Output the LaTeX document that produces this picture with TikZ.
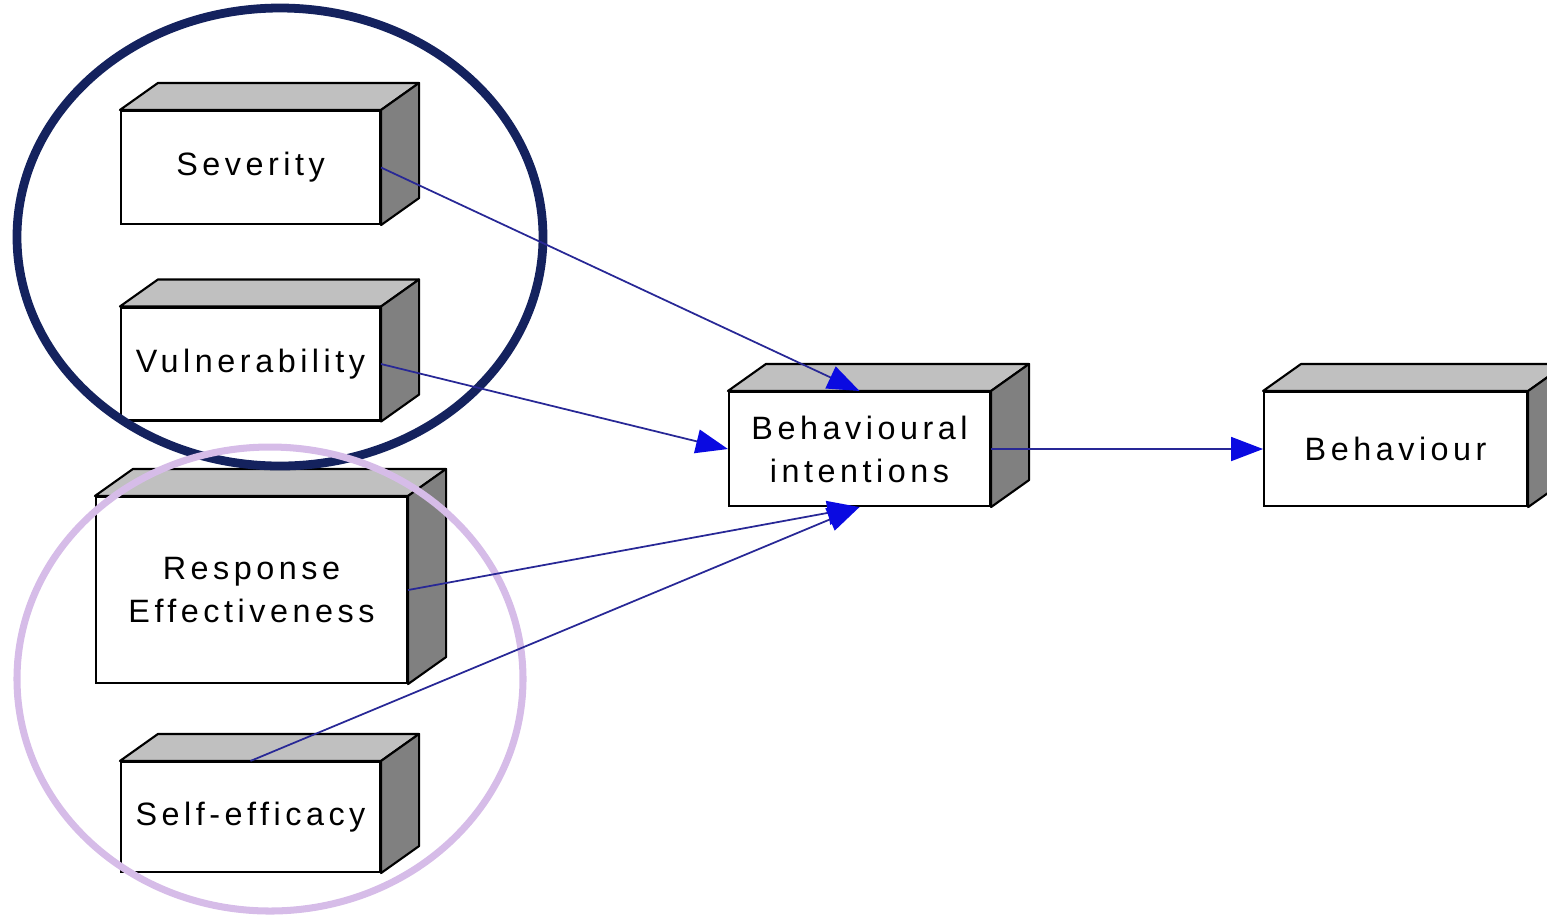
\documentclass[tikz,border=0pt]{standalone}
\usepackage{fontspec}
\usepackage{tikz}
\usetikzlibrary{arrows.meta,positioning,calc}
\newfontfamily\boxfont{Liberation Sans}[LetterSpace=14]
\definecolor{ringnavy}{RGB}{20,34,94}
\definecolor{ringlilac}{RGB}{214,188,232}
\definecolor{linkblue}{RGB}{40,40,150}
\definecolor{headblue}{RGB}{10,10,225}
\definecolor{topgray}{RGB}{192,192,192}
\definecolor{sidegray}{RGB}{128,128,128}

\begin{document}
\begin{tikzpicture}[x=1cm,y=1cm,
  box/.style={draw=black,line width=0.6pt,fill=white,minimum width=2.59cm,minimum height=1.13cm,
    inner sep=0pt,align=center,font=\boxfont\fontsize{9.2}{12.2}\selectfont},
  face/.style={draw=black,line width=0.6pt,line join=round},
  a/.style={-{Triangle[length=0.32cm,width=0.24cm,color=headblue]},line width=0.5pt,color=linkblue}]
  \useasboundingbox (0,0) rectangle (15.47,-9.14);
  % front faces
  \node[box] (sev) at (2.505,-1.675) {Severity};
  \node[box] (vul) at (2.505,-3.64) {Vulnerability};
  \node[box,minimum width=3.11cm,minimum height=1.86cm] (res) at (2.515,-5.90) {Response\\Effectiveness};
  \node[box,minimum height=1.10cm] (self) at (2.505,-8.17) {Self-efficacy};
  \node[box,minimum width=2.61cm,minimum height=1.14cm] (bi) at (8.595,-4.49) {Behavioural\\intentions};
  \node[box,minimum width=2.63cm,minimum height=1.14cm,right=2.72cm of bi] (beh) {Behaviour};
  % top and side faces of every block
  \foreach \n in {sev,vul,res,self,bi,beh} {
    \draw[face,fill=topgray] (\n.north west) -- ++(0.38,0.27) -- ($(\n.north east)+(0.38,0.27)$) -- (\n.north east) -- cycle;
    \draw[face,fill=sidegray] (\n.north east) -- ++(0.38,0.27) -- ($(\n.south east)+(0.38,0.27)$) -- (\n.south east) -- cycle;
  }
  % groups
  \draw[ringnavy,line width=2.5pt] (2.80,-2.37) ellipse [x radius=2.63,y radius=2.29];
  \draw[ringlilac,line width=2pt] (2.70,-6.79) ellipse [x radius=2.53,y radius=2.32];
  % links
  \draw[a] (sev.east) -- (bi.north);
  \draw[a] (vul.east) -- (bi.west);
  \draw[a] (res.east) -- (bi.south);
  \draw[a] (self.north) -- (bi.south);
  \draw[a] (bi.east) -- (beh.west);
\end{tikzpicture}
\end{document}
